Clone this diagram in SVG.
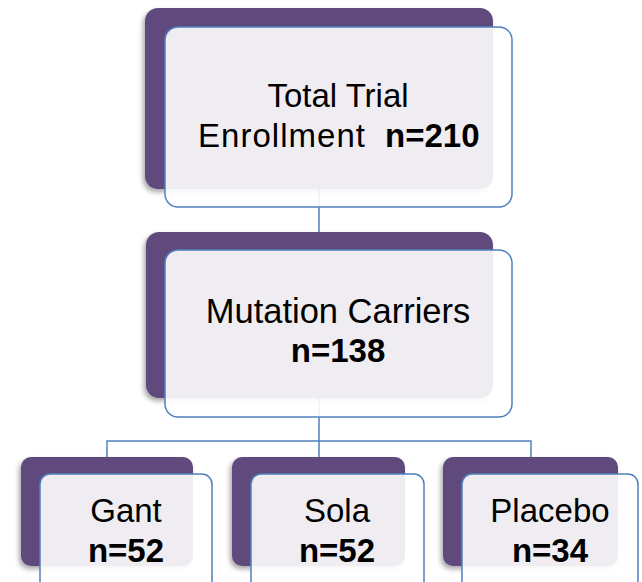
<svg xmlns="http://www.w3.org/2000/svg" width="642" height="582" viewBox="0 0 642 582">
<defs>
<filter id="sh" x="-10%" y="-10%" width="120%" height="130%">
<feDropShadow dx="-2" dy="3" stdDeviation="2.5" flood-color="#000" flood-opacity="0.35"/>
</filter>
<style>
.back{fill:#604a7b;filter:url(#sh)}
.front{fill:#ffffff;fill-opacity:0.9;stroke:#4f81bd;stroke-width:1.5}
.conn{fill:none;stroke:#4f81bd;stroke-width:1.5}
.t{font-family:"Liberation Sans",Arial,sans-serif;font-size:33px;fill:#000;text-anchor:middle}
.s{text-anchor:start}
.b{font-weight:bold}
</style>
</defs>
<rect width="642" height="582" fill="#fff"/>
<g id="connectors">
<path class="conn" d="M319 189 V441 M107 457 V441 H531 V457 M319 441 V457"/>
</g>
<g id="node-total">
<rect class="back" x="145" y="8" width="348" height="181" rx="13"/>
<rect class="front" x="165" y="27" width="347" height="180" rx="13"/>
<text class="t" x="338" y="107">Total Trial</text>
<text class="t s" x="198" y="147" textLength="167" lengthAdjust="spacing">Enrollment</text>
<text class="t s b" x="385" y="147">n=210</text>
</g>
<g id="node-mutation">
<rect class="back" x="146" y="232" width="347" height="166" rx="13"/>
<rect class="front" x="165" y="250" width="347" height="167" rx="13"/>
<text class="t" x="338" y="323" style="font-size:34.5px">Mutation Carriers</text>
<text class="t b" x="338" y="362">n=138</text>
</g>
<g id="node-gant">
<rect class="back" x="21" y="457" width="172" height="109" rx="10"/>
<rect class="front" x="40" y="474" width="172" height="120" rx="10"/>
<text class="t" x="126" y="522">Gant</text>
<text class="t b" x="126" y="562">n=52</text>
</g>
<g id="node-sola">
<rect class="back" x="232" y="457" width="173" height="109" rx="10"/>
<rect class="front" x="251" y="474" width="173" height="120" rx="10"/>
<text class="t" x="337" y="522">Sola</text>
<text class="t b" x="337" y="562">n=52</text>
</g>
<g id="node-placebo">
<rect class="back" x="443" y="457" width="175" height="109" rx="10"/>
<rect class="front" x="462" y="474" width="176" height="120" rx="10"/>
<text class="t" x="550" y="522">Placebo</text>
<text class="t b" x="550" y="562">n=34</text>
</g>
</svg>
